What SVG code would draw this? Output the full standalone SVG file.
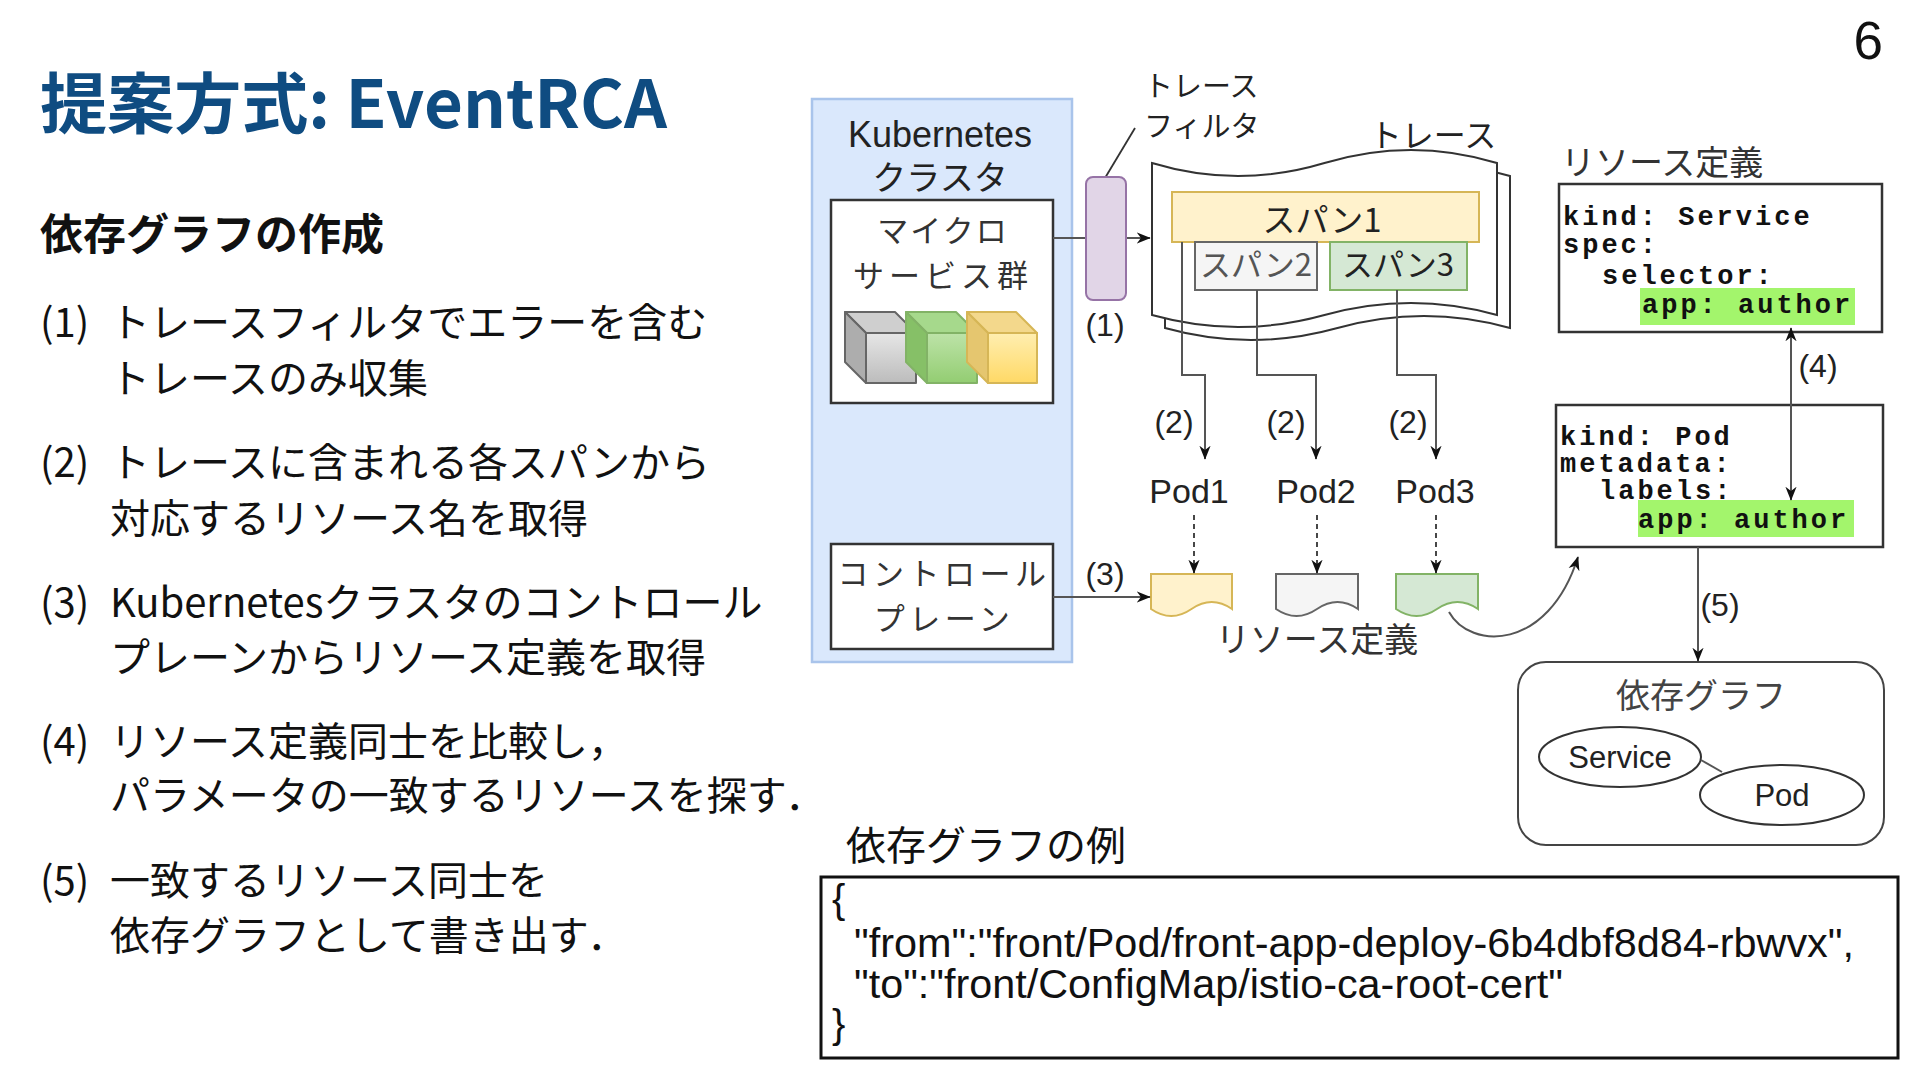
<svg xmlns="http://www.w3.org/2000/svg" width="1920" height="1080" viewBox="0 0 1920 1080">
<defs>
<style>
.jp{font-family:"Noto Sans CJK JP","Noto Sans",sans-serif;}
.la{font-family:"Liberation Sans","Noto Sans CJK JP",sans-serif;}
.mo{font-family:"Liberation Mono","DejaVu Sans Mono",monospace;font-weight:bold;font-size:27px;letter-spacing:3px;fill:#111;}
.body{font-size:40px;fill:#111;}
.dg{fill:#222;}
.box{fill:#fff;stroke:#333;stroke-width:2.5;}
.con{fill:none;stroke:#555;stroke-width:2;}
.dash{fill:none;stroke:#333;stroke-width:1.8;stroke-dasharray:5,4;}
.hl{fill:#a3f56c;}
</style>
<marker id="arr" viewBox="0 0 10 10" refX="9.5" refY="5" markerWidth="14" markerHeight="14" markerUnits="userSpaceOnUse" orient="auto-start-reverse">
<path d="M0,1 L10,5 L0,9 L3,5 Z" fill="#111"/>
</marker>
<linearGradient id="gGrey" x1="0" y1="0" x2="0" y2="1"><stop offset="0" stop-color="#e6e6e6"/><stop offset="1" stop-color="#bcbcbc"/></linearGradient>
<linearGradient id="gGreen" x1="0" y1="0" x2="0" y2="1"><stop offset="0" stop-color="#bde3a8"/><stop offset="1" stop-color="#93cd72"/></linearGradient>
<linearGradient id="gYel" x1="0" y1="0" x2="0" y2="1"><stop offset="0" stop-color="#ffeeb0"/><stop offset="1" stop-color="#ffd966"/></linearGradient>
</defs>
<rect x="0" y="0" width="1920" height="1080" fill="#fff"/>

<g id="slide-text">
<text class="jp" x="40" y="128" font-size="66" font-weight="bold" fill="#0f4c81" textLength="627" lengthAdjust="spacingAndGlyphs">提案方式: EventRCA</text>
<text class="la" x="1883" y="59" font-size="53" fill="#111" text-anchor="end">6</text>
<text class="jp" x="40" y="250" font-size="43" font-weight="bold" fill="#111">依存グラフの作成</text>
<g class="jp body">
<text x="40" y="337">(1)</text><text x="110" y="337">トレースフィルタでエラーを含む</text>
<text x="110" y="393">トレースのみ収集</text>
<text x="40" y="477">(2)</text><text x="110" y="477">トレースに含まれる各スパンから</text>
<text x="110" y="533">対応するリソース名を取得</text>
<text x="40" y="617">(3)</text><text x="110" y="617">Kubernetesクラスタのコントロール</text>
<text x="110" y="672">プレーンからリソース定義を取得</text>
<text x="40" y="756">(4)</text><text x="110" y="756">リソース定義同士を比較し，</text>
<text x="110" y="810">パラメータの一致するリソースを探す．</text>
<text x="40" y="895">(5)</text><text x="110" y="895">一致するリソース同士を</text>
<text x="110" y="950">依存グラフとして書き出す．</text>
</g>
</g>

<g id="k8s-cluster">
<rect x="812" y="99" width="260" height="563" fill="#dae8fc" stroke="#a9c4eb" stroke-width="2.5"/>
<text class="la dg" x="940" y="147" font-size="36" text-anchor="middle">Kubernetes</text>
<text class="jp dg" x="940" y="190" font-size="34" text-anchor="middle">クラスタ</text>
</g>

<g id="microservices">
<rect class="box" x="831" y="200" width="222" height="203"/>
<text class="jp" x="943" y="242" font-size="31" letter-spacing="2" fill="#333" text-anchor="middle">マイクロ</text>
<text class="jp" x="943" y="287" font-size="31" letter-spacing="5" fill="#333" text-anchor="middle">サービス群</text>
<g stroke="#666" stroke-width="2" stroke-linejoin="round">
<path d="M845,312 L895,312 L916,333 L866,333 Z" fill="#cfcfcf"/>
<path d="M845,312 L866,333 L866,383 L845,362 Z" fill="#adadad"/>
<rect x="866" y="333" width="50" height="50" fill="url(#gGrey)"/>
</g>
<g stroke="#82b366" stroke-width="2" stroke-linejoin="round">
<path d="M906,312 L956,312 L977,333 L927,333 Z" fill="#a6d98c"/>
<path d="M906,312 L927,333 L927,383 L906,362 Z" fill="#86c067"/>
<rect x="927" y="333" width="50" height="50" fill="url(#gGreen)"/>
</g>
<g stroke="#d6b656" stroke-width="2" stroke-linejoin="round">
<path d="M967,312 L1016,312 L1037,333 L988,333 Z" fill="#f3d88c"/>
<path d="M967,312 L988,333 L988,383 L967,362 Z" fill="#e5c66f"/>
<rect x="988" y="333" width="49" height="50" fill="url(#gYel)"/>
</g>
</g>

<g id="control-plane">
<rect class="box" x="831" y="544" width="222" height="105"/>
<text class="jp" x="944" y="585" font-size="31" letter-spacing="4.5" fill="#333" text-anchor="middle">コントロール</text>
<text class="jp" x="944" y="630" font-size="31" letter-spacing="4.5" fill="#333" text-anchor="middle">プレーン</text>
</g>

<g id="trace">
<path d="M1165,176 Q1251,202 1337.5,176 Q1424,150 1510,176 L1510,328 Q1424,304 1337.5,328 Q1251,352 1165,328 Z" fill="#fff" stroke="#333" stroke-width="2"/>
<path d="M1152,163 Q1238,189 1324.5,163 Q1411,137 1497,163 L1497,315 Q1411,291 1324.5,315 Q1238,339 1152,315 Z" fill="#fff" stroke="#333" stroke-width="2"/>
<text class="jp dg" x="1433" y="147" font-size="32" text-anchor="middle">トレース</text>
</g>

<g id="span1">
<rect x="1172" y="192" width="307" height="50" fill="#fff2cc" stroke="#d6b656" stroke-width="2"/>
<text class="jp dg" x="1322" y="232" font-size="33" text-anchor="middle">スパン1</text>
</g>
<g id="span2">
<rect x="1195" y="242" width="122" height="48" fill="#f5f5f5" stroke="#666" stroke-width="2"/>
<text class="jp" x="1256" y="276" font-size="31" fill="#555" text-anchor="middle">スパン2</text>
</g>
<g id="span3">
<rect x="1330" y="242" width="137" height="48" fill="#d5e8d4" stroke="#82b366" stroke-width="2"/>
<text class="jp dg" x="1398" y="276" font-size="31" text-anchor="middle">スパン3</text>
</g>

<g id="pods">
<text class="la dg" x="1189" y="503" font-size="34" text-anchor="middle">Pod1</text>
<text class="la dg" x="1316" y="503" font-size="34" text-anchor="middle">Pod2</text>
<text class="la dg" x="1435" y="503" font-size="34" text-anchor="middle">Pod3</text>
</g>

<g id="resource-docs">
<path d="M1151,574 H1232 V609 Q1211.75,595 1191.5,609 Q1171.25,623 1151,609 Z" fill="#fff2cc" stroke="#d6b656" stroke-width="2"/>
<path d="M1276,574 H1358 V609 Q1337.5,595 1317,609 Q1296.5,623 1276,609 Z" fill="#f5f5f5" stroke="#666" stroke-width="2"/>
<path d="M1396,574 H1478 V609 Q1457.5,595 1437,609 Q1416.5,623 1396,609 Z" fill="#d5e8d4" stroke="#82b366" stroke-width="2"/>
<text class="jp" x="1317" y="652" font-size="34" fill="#333" text-anchor="middle">リソース定義</text>
</g>

<g id="service-def">
<text class="jp" x="1561" y="175" font-size="34" fill="#333">リソース定義</text>
<rect class="box" x="1559" y="184" width="323" height="148"/>
<rect class="hl" x="1640" y="288" width="215" height="37"/>
<text class="mo" x="1563" y="225">kind: Service</text>
<text class="mo" x="1563" y="253">spec:</text>
<text class="mo" x="1602" y="284">selector:</text>
<text class="mo" x="1642" y="313">app: author</text>
</g>

<g id="pod-def">
<rect class="box" x="1556" y="405" width="327" height="142"/>
<rect class="hl" x="1638" y="500" width="216" height="37"/>
<text class="mo" x="1560" y="445">kind: Pod</text>
<text class="mo" x="1560" y="472">metadata:</text>
<text class="mo" x="1599" y="499">labels:</text>
<text class="mo" x="1638" y="528">app: author</text>
</g>

<g id="dependency-graph">
<rect x="1518" y="662" width="366" height="183" rx="28" ry="28" fill="#fff" stroke="#444" stroke-width="2"/>
<text class="jp" x="1701" y="708" font-size="34" fill="#444" text-anchor="middle">依存グラフ</text>
<ellipse cx="1620" cy="757" rx="81" ry="30" fill="#fff" stroke="#333" stroke-width="2"/>
<text class="la dg" x="1620" y="768" font-size="31" text-anchor="middle">Service</text>
<ellipse cx="1782" cy="795" rx="82" ry="30" fill="#fff" stroke="#333" stroke-width="2"/>
<text class="la dg" x="1782" y="806" font-size="31" text-anchor="middle">Pod</text>
</g>

<g id="connectors">
<path class="con" d="M1053,238 H1150" stroke="#222" marker-end="url(#arr)"/>
<path class="con" d="M1182,242 V375 H1205 V459" marker-end="url(#arr)"/>
<path class="con" d="M1257,290 V375 H1316 V459" marker-end="url(#arr)"/>
<path class="con" d="M1397,290 V375 H1436 V459" marker-end="url(#arr)"/>
<path class="dash" d="M1194,515 V573" marker-end="url(#arr)"/>
<path class="dash" d="M1317,515 V573" marker-end="url(#arr)"/>
<path class="dash" d="M1436,515 V573" marker-end="url(#arr)"/>
<path class="con" d="M1053,597 H1150" marker-end="url(#arr)"/>
<path class="con" d="M1449,612 C1470,650 1548,652 1578,557" stroke="#333" marker-end="url(#arr)"/>
<path class="con" d="M1791,328 V500" stroke="#888" marker-start="url(#arr)" marker-end="url(#arr)"/>
<path class="con" d="M1698,547 V661" stroke="#333" marker-end="url(#arr)"/>
<path class="con" d="M1701,760 L1722,772" stroke="#333"/>
<path d="M1105,178 L1135,128" fill="none" stroke="#333" stroke-width="1.8"/>
<g class="la dg" font-size="32" text-anchor="middle">
<text x="1105" y="336">(1)</text>
<text x="1174" y="433">(2)</text>
<text x="1286" y="433">(2)</text>
<text x="1408" y="433">(2)</text>
<text x="1105" y="585">(3)</text>
<text x="1818" y="377">(4)</text>
<text x="1720" y="616">(5)</text>
</g>
</g>

<g id="trace-filter">
<rect x="1086" y="177" width="40" height="123" rx="7" ry="7" fill="#e1d5e7" stroke="#9673a6" stroke-width="2"/>
<text class="jp dg" x="1144" y="97" font-size="29">トレース</text>
<text class="jp dg" x="1144" y="137" font-size="29">フィルタ</text>
</g>

<g id="json-example">
<text class="jp" x="846" y="860" font-size="40" fill="#111">依存グラフの例</text>
<rect x="821" y="877" width="1077" height="181" fill="#fff" stroke="#111" stroke-width="3"/>
<g class="la" font-size="40" fill="#111">
<text x="832" y="913">{</text>
<text x="854" y="957" textLength="1000" lengthAdjust="spacingAndGlyphs">"from":"front/Pod/front-app-deploy-6b4dbf8d84-rbwvx",</text>
<text x="854" y="998" textLength="709" lengthAdjust="spacingAndGlyphs">"to":"front/ConfigMap/istio-ca-root-cert"</text>
<text x="832" y="1038">}</text>
</g>
</g>
</svg>
